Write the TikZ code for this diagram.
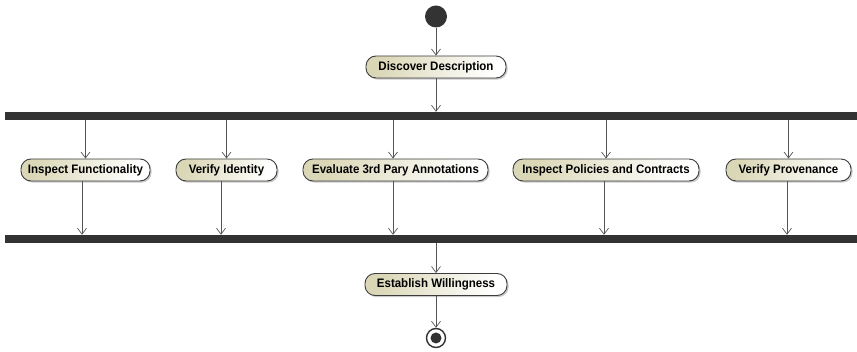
\documentclass[tikz,border=0pt]{standalone}
\usepackage{fontspec}
\setmainfont{Liberation Sans}
\newfontfamily\actfont{Liberation Sans}[FakeStretch=0.935]
\usetikzlibrary{arrows.meta,shadows}
\definecolor{barcol}{RGB}{51,51,51}
\definecolor{linecol}{RGB}{85,85,85}
\definecolor{actfill}{RGB}{218,215,182}
\definecolor{actline}{RGB}{60,60,60}
\tikzset{
  action/.style={draw=actline, line width=0.9pt, rounded corners=10pt,
    left color=actfill, right color=white, shading angle=70,
    minimum height=22pt, inner sep=0pt,
    font=\actfont\fontsize{12.3pt}{14pt}\selectfont\bfseries,
    drop shadow={shadow xshift=1.6pt, shadow yshift=-1.6pt, fill=black!35, opacity=0.6}},
  syncbar/.style={fill=barcol, draw=none, minimum height=8pt, minimum width=852pt, inner sep=0pt},
  flow/.style={draw=linecol, line width=0.8pt, -{Straight Barb[length=6pt, width=9pt, line width=0.7pt]}},
  initial/.style={circle, fill=barcol, minimum size=22pt, inner sep=0pt},
  final/.style={circle, draw=barcol, line width=1.4pt, fill=white, minimum size=19pt, inner sep=0pt},
  finaldot/.style={circle, fill=barcol, minimum size=11pt, inner sep=0pt}
}
\begin{document}
\begin{tikzpicture}[x=1pt, y=-1pt]
  \useasboundingbox (0,0) rectangle (857,352);

  % start, first action, fork
  \node[initial] (start) at (436,16.5) {};
  \node[action, minimum width=140pt] (discover) at (436,67) {Discover Description};
  \node[syncbar] (fork) at (431,116) {};

  % parallel actions
  \node[action, minimum width=129pt] (func) at (85.5,170) {Inspect Functionality};
  \node[action, minimum width=101pt] (ident) at (226.5,170) {Verify Identity};
  \node[action, minimum width=185pt] (annot) at (395.5,170) {Evaluate 3rd Pary Annotations};
  \node[action, minimum width=186pt] (policy) at (606,170) {Inspect Policies and Contracts};
  \node[action, minimum width=125pt] (prov) at (788.5,170) {Verify Provenance};

  % join, last action, end
  \node[syncbar] (join) at (431,239) {};
  \node[action, minimum width=142pt] (willing) at (436,284.5) {Establish Willingness};
  \node[final] (stop) at (436,338) {};
  \node[finaldot] (stopdot) at (stop.center) {};

  % control flow
  \draw[flow] (start) -- (discover);
  \draw[flow] (discover) -- (fork.north -| discover);

  \draw[flow] (fork.south -| func) -- (func);
  \draw[flow] (fork.south -| ident) -- (ident);
  \draw[flow] ([xshift=-2.5pt]fork.south -| annot) -- ([xshift=-2.5pt]annot.north);
  \draw[flow] (fork.south -| policy) -- (policy);
  \draw[flow] (fork.south -| prov) -- (prov);

  \draw[flow] ([xshift=-3.5pt]func.south) -- ([xshift=-3.5pt]func.south |- join.north);
  \draw[flow] ([xshift=-5.5pt]ident.south) -- ([xshift=-5.5pt]ident.south |- join.north);
  \draw[flow] ([xshift=-2.5pt]annot.south) -- ([xshift=-2.5pt]annot.south |- join.north);
  \draw[flow] ([xshift=-2pt]policy.south) -- ([xshift=-2pt]policy.south |- join.north);
  \draw[flow] ([xshift=-1.5pt]prov.south) -- ([xshift=-1.5pt]prov.south |- join.north);

  \draw[flow] (join.south -| willing) -- (willing);
  \draw[flow] (willing) -- (stop);
\end{tikzpicture}
\end{document}
